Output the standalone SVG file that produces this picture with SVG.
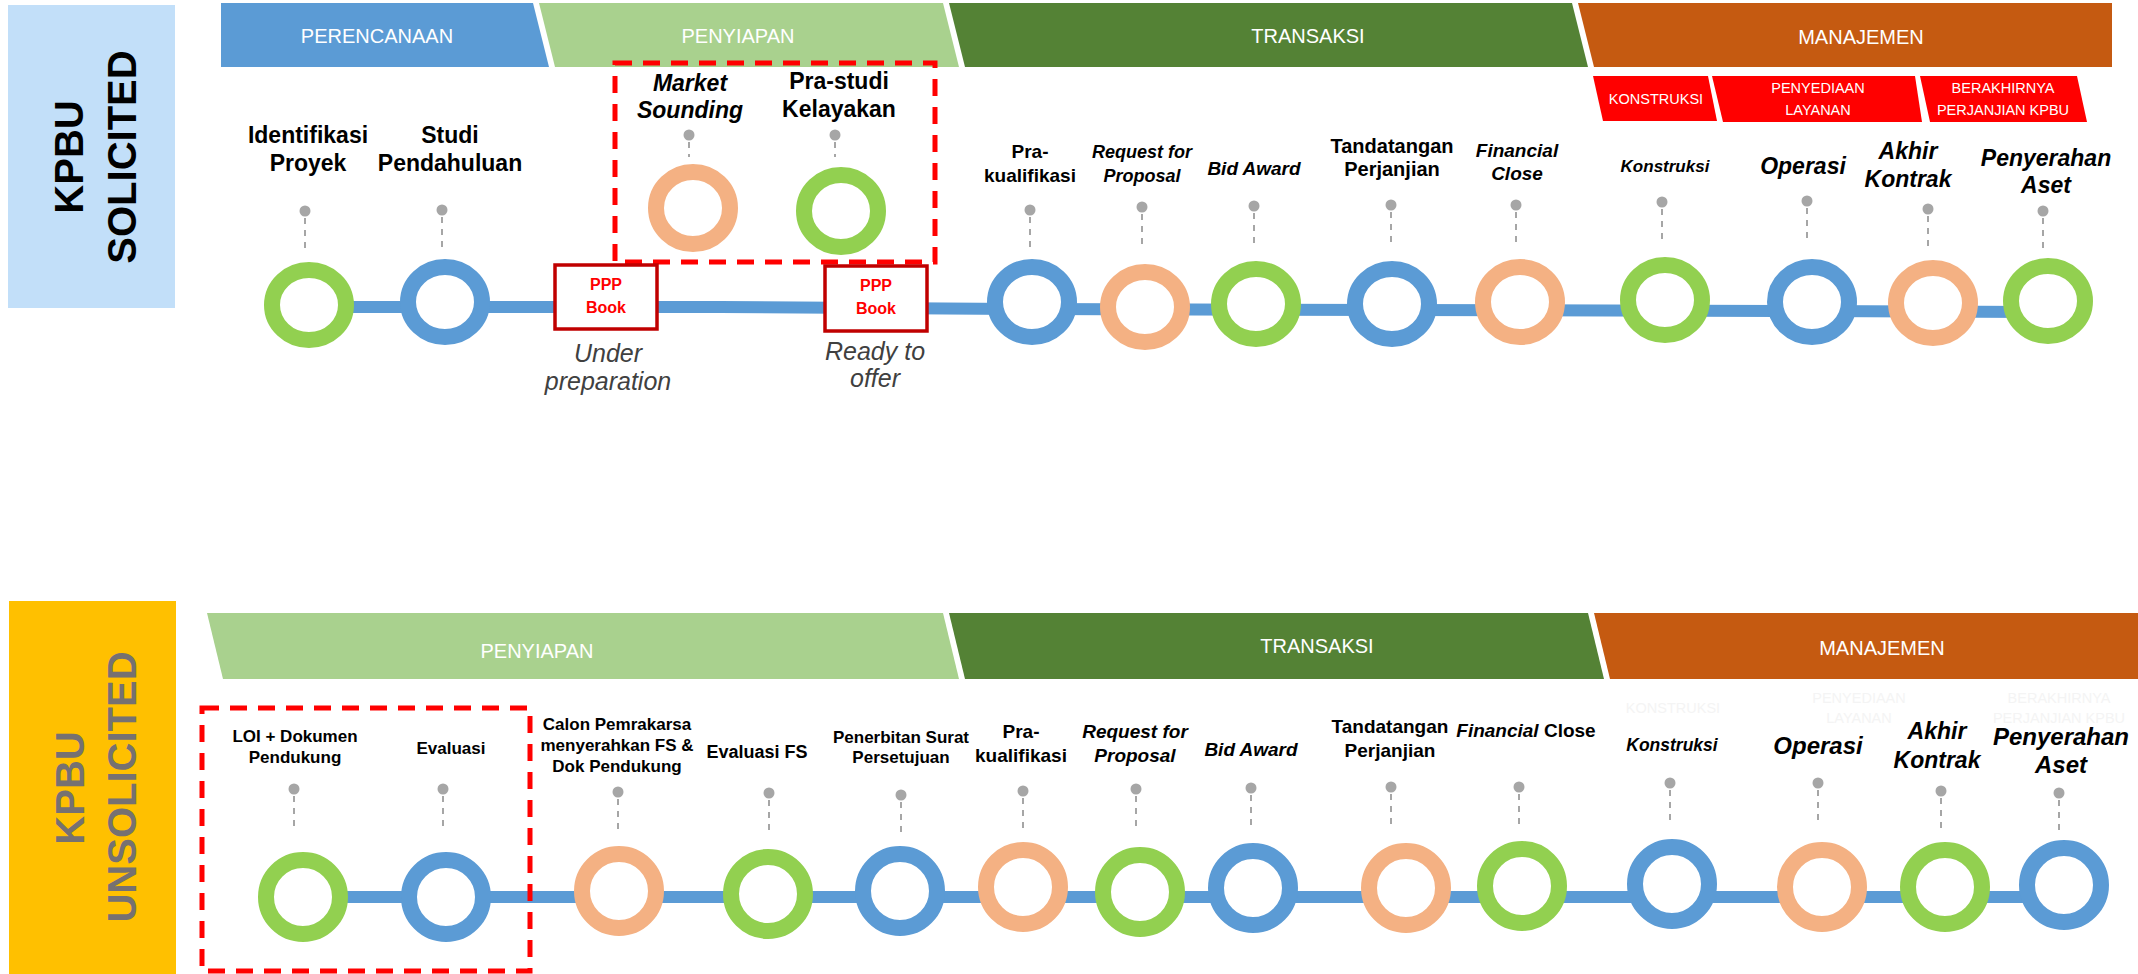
<svg xmlns="http://www.w3.org/2000/svg" width="2138" height="974" viewBox="0 0 2138 974">
<style>
text{font-family:"Liberation Sans",Arial,sans-serif;text-anchor:middle}
.bar{font-size:20px;fill:#fff}
.tab{font-size:14.5px;fill:#fff}
.ghost{font-size:14.5px;fill:#f4f4f4}
.side{font-size:40px;font-weight:bold}
.b23{font-size:23px;font-weight:bold;fill:#000}
.bi23{font-size:23px;font-weight:bold;font-style:italic;fill:#000}
.b19{font-size:19px;font-weight:bold;fill:#000}
.bi19{font-size:19px;font-weight:bold;font-style:italic;fill:#000}
.b17{font-size:17px;font-weight:bold;fill:#000}
.bi17{font-size:17px;font-weight:bold;font-style:italic;fill:#000}
.note{font-size:25px;font-style:italic;fill:#404040}
.ppp{font-size:16px;font-weight:bold;fill:#ff0000}
.ring{fill:#fff;stroke-width:16}
.g{stroke:#92D050}.bl{stroke:#5B9BD5}.o{stroke:#F4B183}
.pin{fill:#A6A6A6}
.pl{stroke:#A6A6A6;stroke-width:2;stroke-dasharray:6 6}
.dash{fill:none;stroke:#ff0000;stroke-width:5;stroke-dasharray:17 11}
.book{fill:#fff;stroke:#C00000;stroke-width:3.5}
</style>

<!-- side labels -->
<g id="solicited-label">
<rect x="8" y="5" width="167" height="303" fill="#C2DFF9"/>
<text class="side" fill="#000" transform="translate(83,157) rotate(-90)">KPBU</text>
<text class="side" fill="#000" transform="translate(136,157) rotate(-90)">SOLICITED</text>
</g>
<g id="unsolicited-label">
<rect x="9" y="601" width="167" height="373" fill="#FFC000"/>
<text class="side" fill="#767171" transform="translate(84,788) rotate(-90)">KPBU</text>
<text class="side" fill="#767171" transform="translate(136,787) rotate(-90)">UNSOLICITED</text>
</g>

<!-- phase bars top -->
<g id="top-phases">
<polygon points="221,3 533,3 549,67 221,67" fill="#5B9BD5"/>
<text class="bar" x="377" y="43">PERENCANAAN</text>
<polygon points="539,3 943,3 959,67 555,67" fill="#A9D18E"/>
<text class="bar" x="738" y="43">PENYIAPAN</text>
<polygon points="949,3 1572,3 1588,67 965,67" fill="#548235"/>
<text class="bar" x="1308" y="43">TRANSAKSI</text>
<polygon points="1578,3 2112,3 2112,67 1594,67" fill="#C55A11"/>
<text class="bar" x="1861" y="44">MANAJEMEN</text>
<polygon points="1593,76 1708,76 1717,121 1603,121" fill="#ff0000"/>
<text class="tab" x="1656" y="104">KONSTRUKSI</text>
<polygon points="1712,76 1915,76 1922,122 1723,122" fill="#ff0000"/>
<text class="tab" x="1818" y="93">PENYEDIAAN</text>
<text class="tab" x="1818" y="115">LAYANAN</text>
<polygon points="1920,76 2077,76 2087,122 1930,122" fill="#ff0000"/>
<text class="tab" x="2003" y="93">BERAKHIRNYA</text>
<text class="tab" x="2003" y="115">PERJANJIAN KPBU</text>
</g>

<!-- phase bars bottom -->
<g id="bottom-phases">
<polygon points="207,613 943,613 959,679 223,679" fill="#A9D18E"/>
<text class="bar" x="537" y="658">PENYIAPAN</text>
<polygon points="949,613 1588,613 1604,679 965,679" fill="#548235"/>
<text class="bar" x="1317" y="653">TRANSAKSI</text>
<polygon points="1594,613 2138,613 2138,679 1610,679" fill="#C55A11"/>
<text class="bar" x="1882" y="655">MANAJEMEN</text>
<text class="ghost" x="1673" y="713">KONSTRUKSI</text>
<text class="ghost" x="1859" y="703">PENYEDIAAN</text>
<text class="ghost" x="1859" y="723">LAYANAN</text>
<text class="ghost" x="2059" y="703">BERAKHIRNYA</text>
<text class="ghost" x="2059" y="723">PERJANJIAN KPBU</text>
</g>

<!-- connectors -->
<g id="connectors" fill="none" stroke="#5B9BD5" stroke-width="12">
<path d="M309,307 L720,307 L1032,309 L1392,310 L1812,311 L2048,312"/>
<path d="M303,897 L2064,897"/>
</g>

<!-- dashed highlight boxes -->
<g id="highlights">
<rect class="dash" x="615" y="63" width="320" height="199"/>
<rect class="dash" x="202" y="708" width="328" height="263"/>
</g>

<!-- top nodes -->
<g id="t1"><text class="b23" x="308" y="143">Identifikasi</text><text class="b23" x="308" y="171">Proyek</text>
<circle class="pin" cx="305" cy="211" r="5.5"/><line class="pl" x1="305" y1="218" x2="305" y2="248"/>
<ellipse class="ring g" cx="309" cy="305" rx="37" ry="35"/></g>
<g id="t2"><text class="b23" x="450" y="143">Studi</text><text class="b23" x="450" y="171">Pendahuluan</text>
<circle class="pin" cx="442" cy="210" r="5.5"/><line class="pl" x1="442" y1="217" x2="442" y2="247"/>
<ellipse class="ring bl" cx="445" cy="302" rx="37" ry="35"/></g>
<g id="t3"><text class="bi23" x="690" y="91">Market</text><text class="bi23" x="690" y="118">Sounding</text>
<circle class="pin" cx="689" cy="135" r="5.5"/><line class="pl" x1="689" y1="142" x2="689" y2="157"/>
<ellipse class="ring o" cx="693" cy="208" rx="37" ry="36"/></g>
<g id="t4"><text class="b23" x="839" y="89">Pra-studi</text><text class="b23" x="839" y="117">Kelayakan</text>
<circle class="pin" cx="835" cy="135" r="5.5"/><line class="pl" x1="835" y1="142" x2="835" y2="157"/>
<ellipse class="ring g" cx="841" cy="211" rx="37" ry="36"/></g>
<g id="ppp1"><rect class="book" x="555" y="265" width="102" height="64"/>
<text class="ppp" x="606" y="290">PPP</text><text class="ppp" x="606" y="313">Book</text>
<text class="note" x="608" y="362">Under</text><text class="note" x="608" y="390">preparation</text></g>
<g id="ppp2"><rect class="book" x="825" y="266" width="102" height="65"/>
<text class="ppp" x="876" y="291">PPP</text><text class="ppp" x="876" y="314">Book</text>
<text class="note" x="875" y="360">Ready to</text><text class="note" x="875" y="387">offer</text></g>
<g id="t5"><text class="b19" x="1030" y="158">Pra-</text><text class="b19" x="1030" y="182">kualifikasi</text>
<circle class="pin" cx="1030" cy="210" r="5.5"/><line class="pl" x1="1030" y1="217" x2="1030" y2="247"/>
<ellipse class="ring bl" cx="1032" cy="302" rx="37" ry="35"/></g>
<g id="t6"><text class="bi19" x="1142" y="158" style="font-size:18px">Request for</text><text class="bi19" x="1142" y="182" style="font-size:18px">Proposal</text>
<circle class="pin" cx="1142" cy="207" r="5.5"/><line class="pl" x1="1142" y1="214" x2="1142" y2="244"/>
<ellipse class="ring o" cx="1145" cy="307" rx="37" ry="35"/></g>
<g id="t7"><text class="bi19" x="1254" y="175">Bid Award</text>
<circle class="pin" cx="1254" cy="206" r="5.5"/><line class="pl" x1="1254" y1="213" x2="1254" y2="243"/>
<ellipse class="ring g" cx="1256" cy="304" rx="37" ry="35"/></g>
<g id="t8"><text class="b19" x="1392" y="153" style="font-size:20px">Tandatangan</text><text class="b19" x="1392" y="176" style="font-size:20px">Perjanjian</text>
<circle class="pin" cx="1391" cy="205" r="5.5"/><line class="pl" x1="1391" y1="212" x2="1391" y2="242"/>
<ellipse class="ring bl" cx="1392" cy="304" rx="37" ry="35"/></g>
<g id="t9"><text class="bi19" x="1517" y="157">Financial</text><text class="bi19" x="1517" y="180">Close</text>
<circle class="pin" cx="1516" cy="205" r="5.5"/><line class="pl" x1="1516" y1="212" x2="1516" y2="242"/>
<ellipse class="ring o" cx="1520" cy="302" rx="37" ry="35"/></g>
<g id="t10"><text class="bi17" x="1665" y="172">Konstruksi</text>
<circle class="pin" cx="1662" cy="202" r="5.5"/><line class="pl" x1="1662" y1="209" x2="1662" y2="239"/>
<ellipse class="ring g" cx="1665" cy="300" rx="37" ry="35"/></g>
<g id="t11"><text class="bi23" x="1803" y="174">Operasi</text>
<circle class="pin" cx="1807" cy="201" r="5.5"/><line class="pl" x1="1807" y1="208" x2="1807" y2="238"/>
<ellipse class="ring bl" cx="1812" cy="302" rx="37" ry="35"/></g>
<g id="t12"><text class="bi23" x="1908" y="159">Akhir</text><text class="bi23" x="1908" y="187">Kontrak</text>
<circle class="pin" cx="1928" cy="209" r="5.5"/><line class="pl" x1="1928" y1="216" x2="1928" y2="246"/>
<ellipse class="ring o" cx="1933" cy="303" rx="37" ry="35"/></g>
<g id="t13"><text class="bi23" x="2046" y="166">Penyerahan</text><text class="bi23" x="2046" y="193">Aset</text>
<circle class="pin" cx="2043" cy="211" r="5.5"/><line class="pl" x1="2043" y1="218" x2="2043" y2="248"/>
<ellipse class="ring g" cx="2048" cy="301" rx="37" ry="35"/></g>

<!-- bottom nodes -->
<g id="b1"><text class="b17" x="295" y="742">LOI + Dokumen</text><text class="b17" x="295" y="763">Pendukung</text>
<circle class="pin" cx="294" cy="789" r="5.5"/><line class="pl" x1="294" y1="796" x2="294" y2="826"/>
<ellipse class="ring g" cx="303" cy="897" rx="37" ry="37"/></g>
<g id="b2"><text class="b17" x="451" y="754">Evaluasi</text>
<circle class="pin" cx="443" cy="789" r="5.5"/><line class="pl" x1="443" y1="796" x2="443" y2="826"/>
<ellipse class="ring bl" cx="446" cy="897" rx="37" ry="37"/></g>
<g id="b3"><text class="b17" x="617" y="730">Calon Pemrakarsa</text><text class="b17" x="617" y="751">menyerahkan FS &amp;</text><text class="b17" x="617" y="772">Dok Pendukung</text>
<circle class="pin" cx="618" cy="792" r="5.5"/><line class="pl" x1="618" y1="799" x2="618" y2="829"/>
<ellipse class="ring o" cx="619" cy="891" rx="37" ry="37"/></g>
<g id="b4"><text class="b17" x="757" y="758" style="font-size:18px">Evaluasi FS</text>
<circle class="pin" cx="769" cy="793" r="5.5"/><line class="pl" x1="769" y1="800" x2="769" y2="830"/>
<ellipse class="ring g" cx="768" cy="894" rx="37" ry="37"/></g>
<g id="b5"><text class="b17" x="901" y="743">Penerbitan Surat</text><text class="b17" x="901" y="763">Persetujuan</text>
<circle class="pin" cx="901" cy="795" r="5.5"/><line class="pl" x1="901" y1="802" x2="901" y2="832"/>
<ellipse class="ring bl" cx="900" cy="891" rx="37" ry="37"/></g>
<g id="b6"><text class="b19" x="1021" y="738">Pra-</text><text class="b19" x="1021" y="762">kualifikasi</text>
<circle class="pin" cx="1023" cy="791" r="5.5"/><line class="pl" x1="1023" y1="798" x2="1023" y2="828"/>
<ellipse class="ring o" cx="1023" cy="887" rx="37" ry="37"/></g>
<g id="b7"><text class="bi19" x="1135" y="738">Request for</text><text class="bi19" x="1135" y="762">Proposal</text>
<circle class="pin" cx="1136" cy="789" r="5.5"/><line class="pl" x1="1136" y1="796" x2="1136" y2="826"/>
<ellipse class="ring g" cx="1140" cy="892" rx="37" ry="37"/></g>
<g id="b8"><text class="bi19" x="1251" y="756">Bid Award</text>
<circle class="pin" cx="1251" cy="788" r="5.5"/><line class="pl" x1="1251" y1="795" x2="1251" y2="825"/>
<ellipse class="ring bl" cx="1253" cy="888" rx="37" ry="37"/></g>
<g id="b9"><text class="b19" x="1390" y="733">Tandatangan</text><text class="b19" x="1390" y="757">Perjanjian</text>
<circle class="pin" cx="1391" cy="787" r="5.5"/><line class="pl" x1="1391" y1="794" x2="1391" y2="824"/>
<ellipse class="ring o" cx="1406" cy="888" rx="37" ry="37"/></g>
<g id="b10"><text class="b19" x="1526" y="737"><tspan font-style="italic">Financial</tspan> Close</text>
<circle class="pin" cx="1519" cy="787" r="5.5"/><line class="pl" x1="1519" y1="794" x2="1519" y2="824"/>
<ellipse class="ring g" cx="1522" cy="886" rx="37" ry="37"/></g>
<g id="b11"><text class="bi17" x="1672" y="751" style="font-size:17.5px">Konstruksi</text>
<circle class="pin" cx="1670" cy="783" r="5.5"/><line class="pl" x1="1670" y1="790" x2="1670" y2="820"/>
<ellipse class="ring bl" cx="1672" cy="884" rx="37" ry="37"/></g>
<g id="b12"><text class="bi23" x="1818" y="754" style="font-size:24px">Operasi</text>
<circle class="pin" cx="1818" cy="783" r="5.5"/><line class="pl" x1="1818" y1="790" x2="1818" y2="820"/>
<ellipse class="ring o" cx="1822" cy="887" rx="37" ry="37"/></g>
<g id="b13"><text class="bi23" x="1937" y="739">Akhir</text><text class="bi23" x="1937" y="768">Kontrak</text>
<circle class="pin" cx="1941" cy="791" r="5.5"/><line class="pl" x1="1941" y1="798" x2="1941" y2="828"/>
<ellipse class="ring g" cx="1945" cy="887" rx="37" ry="37"/></g>
<g id="b14"><text class="bi23" x="2061" y="745" style="font-size:24px">Penyerahan</text><text class="bi23" x="2061" y="773" style="font-size:24px">Aset</text>
<circle class="pin" cx="2059" cy="793" r="5.5"/><line class="pl" x1="2059" y1="800" x2="2059" y2="830"/>
<ellipse class="ring bl" cx="2064" cy="885" rx="37" ry="37"/></g>
</svg>
